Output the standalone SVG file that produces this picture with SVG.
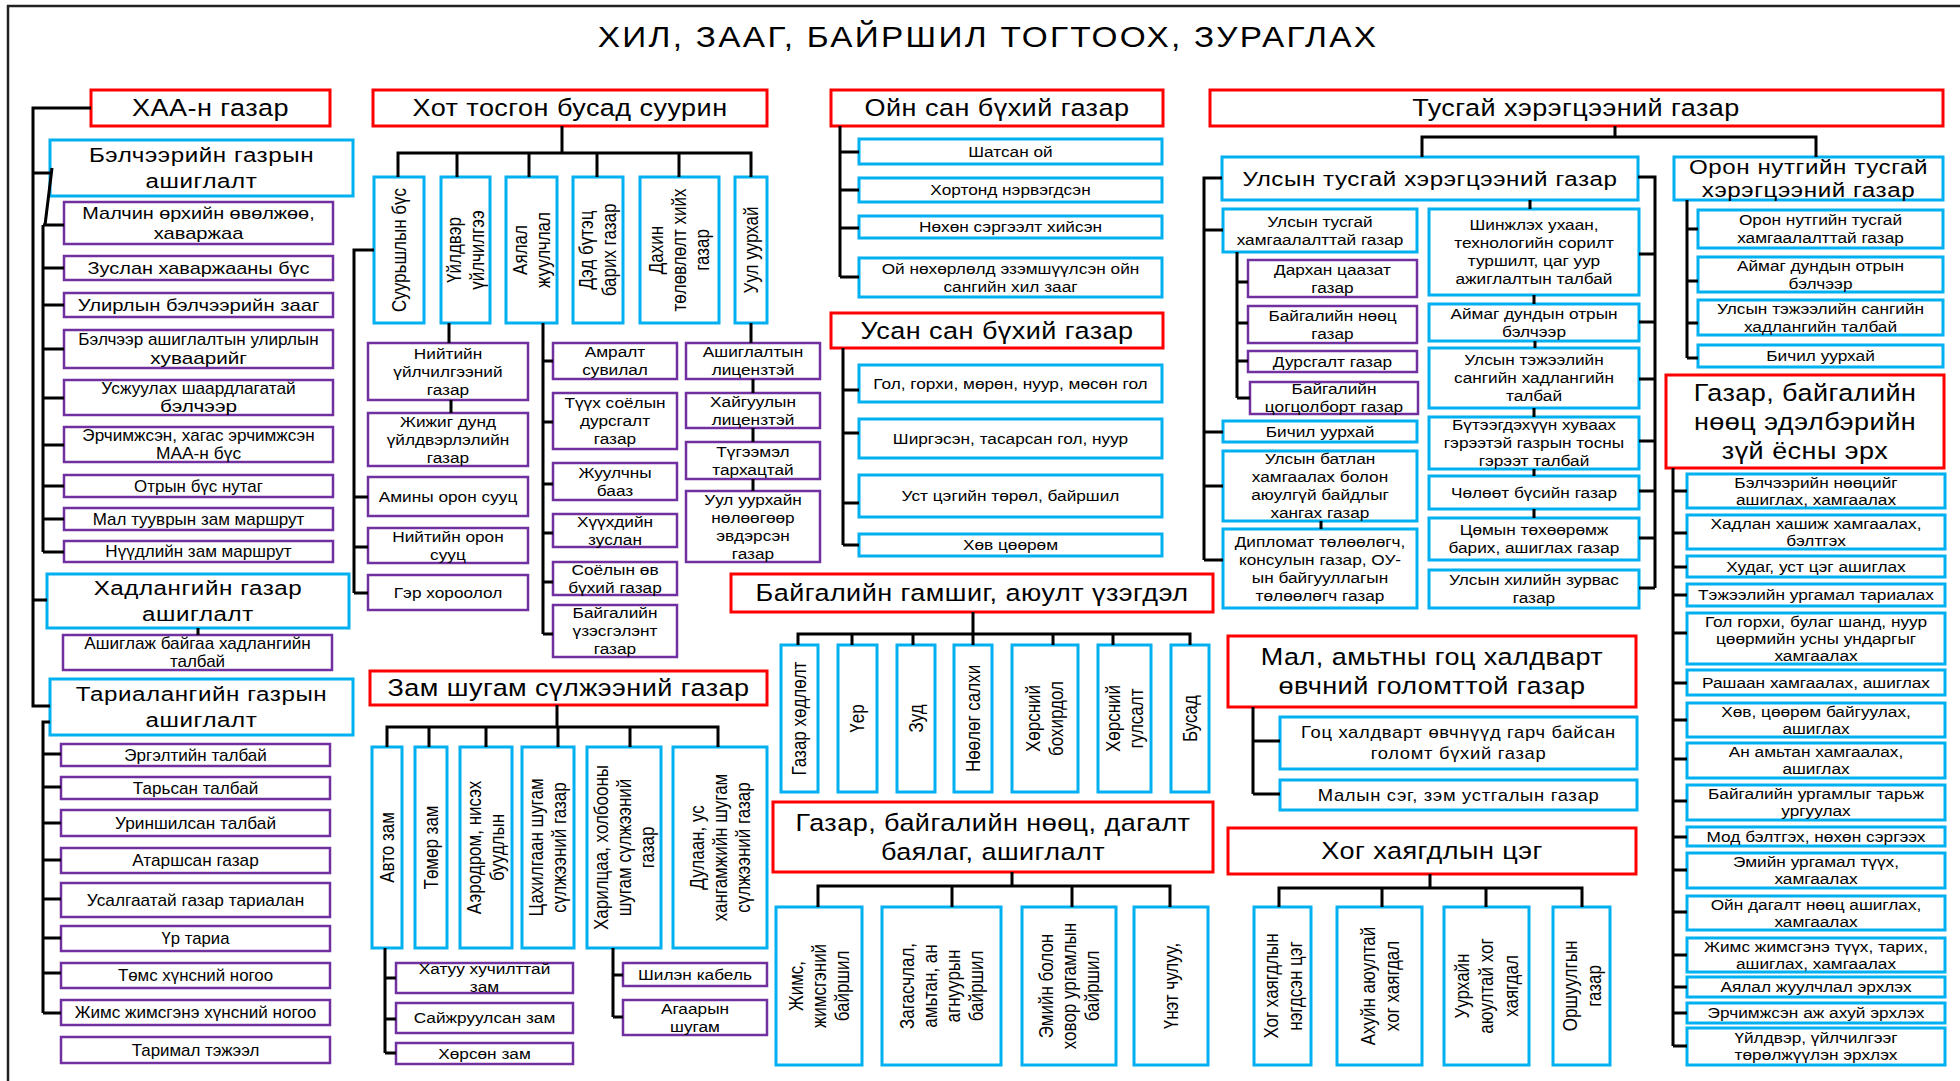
<svg xmlns="http://www.w3.org/2000/svg" width="1960" height="1081" viewBox="0 0 1960 1081">
<style>
.r{fill:#fff;stroke:#FF0000;stroke-width:3}
.b{fill:#fff;stroke:#00B0F0;stroke-width:3}
.p{fill:#fff;stroke:#7030A0;stroke-width:2.5}
.ln{fill:none;stroke:#000;stroke-width:3}
.fr{fill:none;stroke:#222;stroke-width:2.5}
text{font-family:"Liberation Sans",Arial,sans-serif;text-anchor:middle;fill:#000}
.tt{font-size:29px;letter-spacing:2px}
.h{font-size:23.5px;letter-spacing:0.4px}
.m{font-size:21px;letter-spacing:0.5px}
.s{font-size:15px}
.s16{font-size:16px;letter-spacing:0.6px}
.k{font-size:16px}
.v{font-size:17px}
</style>
<rect width="1960" height="1081" fill="#fff"/>
<path class="fr" d="M8,1081 V6 H1960"/>
<text class="tt" transform="translate(988,47) scale(1.15,1)">ХИЛ, ЗААГ, БАЙРШИЛ ТОГТООХ, ЗУРАГЛАХ</text>

<!-- ХАА -->
<g id="haa"><rect class="r" x="91" y="90" width="239" height="36"/><text class="h" transform="translate(210.5,116) scale(1.15,1)">ХАА-н газар</text></g>
<g id="belcheer"><rect class="b" x="50" y="140" width="303" height="56"/><text class="m" transform="translate(201.5,162.4) scale(1.15,1)"><tspan x="0">Бэлчээрийн газрын</tspan><tspan x="0" dy="26">ашиглалт</tspan></text></g>
<g id="b1"><rect class="p" x="64" y="202" width="269" height="42"/><text class="k" transform="translate(198.5,219.1) scale(1.15,1)"><tspan x="0" textLength="202" lengthAdjust="spacingAndGlyphs">Малчин өрхийн өвөлжөө,</tspan><tspan x="0" dy="20" textLength="78" lengthAdjust="spacingAndGlyphs">хаваржаа</tspan></text></g>
<g id="b2"><rect class="p" x="64" y="256" width="269" height="24"/><text class="k" transform="translate(198.5,273.6) scale(1.15,1)" textLength="193" lengthAdjust="spacingAndGlyphs">Зуслан хаваржааны бүс</text></g>
<g id="b3"><rect class="p" x="64" y="293" width="269" height="24"/><text class="k" transform="translate(198.5,310.6) scale(1.15,1)" textLength="210" lengthAdjust="spacingAndGlyphs">Улирлын бэлчээрийн зааг</text></g>
<g id="b4"><rect class="p" x="64" y="330" width="269" height="38"/><text class="k" transform="translate(198.5,345.1) scale(1.15,1)"><tspan x="0" textLength="209" lengthAdjust="spacingAndGlyphs">Бэлчээр ашиглалтын улирлын</tspan><tspan x="0" dy="19" textLength="84" lengthAdjust="spacingAndGlyphs">хуваарийг</tspan></text></g>
<g id="b5"><rect class="p" x="64" y="380" width="269" height="35"/><text class="k" transform="translate(198.5,393.6) scale(1.15,1)"><tspan x="0" textLength="169" lengthAdjust="spacingAndGlyphs">Усжуулах шаардлагатай</tspan><tspan x="0" dy="18" textLength="67" lengthAdjust="spacingAndGlyphs">бэлчээр</tspan></text></g>
<g id="b6"><rect class="p" x="64" y="427" width="269" height="35"/><text class="k" transform="translate(198.5,440.6) scale(1.15,1)"><tspan x="0" textLength="202" lengthAdjust="spacingAndGlyphs">Эрчимжсэн, хагас эрчимжсэн</tspan><tspan x="0" dy="18" textLength="74" lengthAdjust="spacingAndGlyphs">МАА-н бүс</tspan></text></g>
<g id="b7"><rect class="p" x="64" y="475" width="269" height="22"/><text class="k" transform="translate(198.5,491.6) scale(1.15,1)" textLength="112" lengthAdjust="spacingAndGlyphs">Отрын бүс нутаг</text></g>
<g id="b8"><rect class="p" x="64" y="508" width="269" height="22"/><text class="k" transform="translate(198.5,524.6) scale(1.15,1)" textLength="184" lengthAdjust="spacingAndGlyphs">Мал тууврын зам маршрут</text></g>
<g id="b9"><rect class="p" x="64" y="541" width="269" height="21"/><text class="k" transform="translate(198.5,557.1) scale(1.15,1)" textLength="162" lengthAdjust="spacingAndGlyphs">Нүүдлийн зам маршрут</text></g>
<g id="hadlan"><rect class="b" x="47" y="574" width="302" height="54"/><text class="m" transform="translate(198,595.4) scale(1.15,1)"><tspan x="0">Хадлангийн газар</tspan><tspan x="0" dy="26">ашиглалт</tspan></text></g>
<g id="h1"><rect class="p" x="63" y="635" width="269" height="35"/><text class="k" transform="translate(197.5,648.6) scale(1.15,1)"><tspan x="0" textLength="197" lengthAdjust="spacingAndGlyphs">Ашиглаж байгаа хадлангийн</tspan><tspan x="0" dy="18" textLength="48" lengthAdjust="spacingAndGlyphs">талбай</tspan></text></g>
<g id="taria"><rect class="b" x="50" y="679" width="303" height="56"/><text class="m" transform="translate(201.5,701.4) scale(1.15,1)"><tspan x="0">Тариалангийн газрын</tspan><tspan x="0" dy="26">ашиглалт</tspan></text></g>
<g id="t1"><rect class="p" x="61" y="744" width="269" height="22"/><text class="k" transform="translate(195.5,760.6) scale(1.15,1)" textLength="124" lengthAdjust="spacingAndGlyphs">Эргэлтийн талбай</text></g>
<g id="t2"><rect class="p" x="61" y="777" width="269" height="22"/><text class="k" transform="translate(195.5,793.6) scale(1.15,1)" textLength="109" lengthAdjust="spacingAndGlyphs">Тарьсан талбай</text></g>
<g id="t3"><rect class="p" x="61" y="810" width="269" height="26"/><text class="k" transform="translate(195.5,828.6) scale(1.15,1)" textLength="140" lengthAdjust="spacingAndGlyphs">Уриншилсан талбай</text></g>
<g id="t4"><rect class="p" x="61" y="848" width="269" height="25"/><text class="k" transform="translate(195.5,866.1) scale(1.15,1)" textLength="110" lengthAdjust="spacingAndGlyphs">Атаршсан газар</text></g>
<g id="t5"><rect class="p" x="61" y="883" width="269" height="34"/><text class="k" transform="translate(195.5,905.6) scale(1.15,1)" textLength="189" lengthAdjust="spacingAndGlyphs">Усалгаатай газар тариалан</text></g>
<g id="t6"><rect class="p" x="61" y="926" width="269" height="25"/><text class="k" transform="translate(195.5,944.1) scale(1.15,1)" textLength="59" lengthAdjust="spacingAndGlyphs">Үр тариа</text></g>
<g id="t7"><rect class="p" x="61" y="963" width="269" height="25"/><text class="k" transform="translate(195.5,981.1) scale(1.15,1)" textLength="135" lengthAdjust="spacingAndGlyphs">Төмс хүнсний ногоо</text></g>
<g id="t8"><rect class="p" x="61" y="1000" width="269" height="25"/><text class="k" transform="translate(195.5,1018.1) scale(1.15,1)" textLength="210" lengthAdjust="spacingAndGlyphs">Жимс жимсгэнэ хүнсний ногоо</text></g>
<g id="t9"><rect class="p" x="61" y="1037" width="269" height="26"/><text class="k" transform="translate(195.5,1055.6) scale(1.15,1)" textLength="111" lengthAdjust="spacingAndGlyphs">Таримал тэжээл</text></g>

<!-- Хот -->
<g id="hot"><rect class="r" x="373" y="90" width="394" height="36"/><text class="h" transform="translate(570,116) scale(1.15,1)">Хот тосгон бусад суурин</text></g>
<g id="hv1"><rect class="b" x="374" y="177" width="50" height="146"/><text class="v" transform="translate(399,250) scale(1.15,1) rotate(-90)"><tspan x="0" y="6">Суурьшлын бүс</tspan></text></g>
<g id="hv2"><rect class="b" x="441" y="177" width="49" height="146"/><text class="v" transform="translate(465.5,250) scale(1.15,1) rotate(-90)"><tspan x="0" y="-4">Үйлдвэр</tspan><tspan x="0" dy="20">үйлчилгээ</tspan></text></g>
<g id="hv3"><rect class="b" x="506" y="177" width="51" height="146"/><text class="v" transform="translate(531.5,250) scale(1.15,1) rotate(-90)"><tspan x="0" y="-4">Аялал</tspan><tspan x="0" dy="20">жуулчлал</tspan></text></g>
<g id="hv4"><rect class="b" x="573" y="177" width="50" height="146"/><text class="v" transform="translate(598,250) scale(1.15,1) rotate(-90)"><tspan x="0" y="-4">Дэд бүтэц</tspan><tspan x="0" dy="20">барих газар</tspan></text></g>
<g id="hv5"><rect class="b" x="640" y="177" width="79" height="146"/><text class="v" transform="translate(679.5,250) scale(1.15,1) rotate(-90)"><tspan x="0" y="-14">Дахин</tspan><tspan x="0" dy="20">төлөвлөлт хийх</tspan><tspan x="0" dy="20">газар</tspan></text></g>
<g id="hv6"><rect class="b" x="735" y="177" width="32" height="146"/><text class="v" transform="translate(751,250) scale(1.15,1) rotate(-90)"><tspan x="0" y="6">Уул уурхай</tspan></text></g>
<g id="hp1"><rect class="p" x="368" y="343" width="160" height="57"/><text class="s" transform="translate(448,358.75) scale(1.15,1)"><tspan x="0">Нийтийн</tspan><tspan x="0" dy="18">үйлчилгээний</tspan><tspan x="0" dy="18">газар</tspan></text></g>
<g id="hp2"><rect class="p" x="368" y="413" width="160" height="53"/><text class="s" transform="translate(448,426.75) scale(1.15,1)"><tspan x="0">Жижиг дунд</tspan><tspan x="0" dy="18">үйлдвэрлэлийн</tspan><tspan x="0" dy="18">газар</tspan></text></g>
<g id="hp3"><rect class="p" x="368" y="477" width="160" height="39"/><text class="s" transform="translate(448,501.75) scale(1.15,1)">Амины орон сууц</text></g>
<g id="hp4"><rect class="p" x="368" y="528" width="160" height="35"/><text class="s" transform="translate(448,541.75) scale(1.15,1)"><tspan x="0">Нийтийн орон</tspan><tspan x="0" dy="18">сууц</tspan></text></g>
<g id="hp5"><rect class="p" x="368" y="575" width="160" height="35"/><text class="s" transform="translate(448,597.75) scale(1.15,1)">Гэр хороолол</text></g>
<g id="ha1"><rect class="p" x="553" y="343" width="124" height="36"/><text class="s" transform="translate(615,357.25) scale(1.15,1)"><tspan x="0">Амралт</tspan><tspan x="0" dy="18">сувилал</tspan></text></g>
<g id="ha2"><rect class="p" x="553" y="393" width="124" height="56"/><text class="s" transform="translate(615,408.25) scale(1.15,1)"><tspan x="0">Түүх соёлын</tspan><tspan x="0" dy="18">дурсгалт</tspan><tspan x="0" dy="18">газар</tspan></text></g>
<g id="ha3"><rect class="p" x="553" y="463" width="124" height="37"/><text class="s" transform="translate(615,477.75) scale(1.15,1)"><tspan x="0">Жуулчны</tspan><tspan x="0" dy="18">бааз</tspan></text></g>
<g id="ha4"><rect class="p" x="553" y="514" width="124" height="33"/><text class="s" transform="translate(615,526.75) scale(1.15,1)"><tspan x="0">Хүүхдийн</tspan><tspan x="0" dy="18">зуслан</tspan></text></g>
<g id="ha5"><rect class="p" x="553" y="562" width="124" height="33"/><text class="s" transform="translate(615,574.75) scale(1.15,1)"><tspan x="0">Соёлын өв</tspan><tspan x="0" dy="18">бүхий газар</tspan></text></g>
<g id="ha6"><rect class="p" x="553" y="605" width="124" height="52"/><text class="s" transform="translate(615,618.25) scale(1.15,1)"><tspan x="0">Байгалийн</tspan><tspan x="0" dy="18">үзэсгэлэнт</tspan><tspan x="0" dy="18">газар</tspan></text></g>
<g id="hu1"><rect class="p" x="686" y="343" width="134" height="36"/><text class="s" transform="translate(753,357.25) scale(1.15,1)"><tspan x="0">Ашиглалтын</tspan><tspan x="0" dy="18">лицензтэй</tspan></text></g>
<g id="hu2"><rect class="p" x="686" y="393" width="134" height="35"/><text class="s" transform="translate(753,406.75) scale(1.15,1)"><tspan x="0">Хайгуулын</tspan><tspan x="0" dy="18">лицензтэй</tspan></text></g>
<g id="hu3"><rect class="p" x="686" y="442" width="134" height="37"/><text class="s" transform="translate(753,456.75) scale(1.15,1)"><tspan x="0">Түгээмэл</tspan><tspan x="0" dy="18">тархацтай</tspan></text></g>
<g id="hu4"><rect class="p" x="686" y="491" width="134" height="71"/><text class="s" transform="translate(753,504.75) scale(1.15,1)"><tspan x="0">Уул уурхайн</tspan><tspan x="0" dy="18">нөлөөгөөр</tspan><tspan x="0" dy="18">эвдэрсэн</tspan><tspan x="0" dy="18">газар</tspan></text></g>

<!-- Ойн / Усан -->
<g id="oin"><rect class="r" x="831" y="90" width="332" height="36"/><text class="h" transform="translate(997,116) scale(1.15,1)">Ойн сан бүхий газар</text></g>
<g id="o1"><rect class="b" x="859" y="139" width="303" height="25"/><text class="s" transform="translate(1010.5,156.75) scale(1.15,1)">Шатсан ой</text></g>
<g id="o2"><rect class="b" x="859" y="178" width="303" height="24"/><text class="s" transform="translate(1010.5,195.25) scale(1.15,1)">Хортонд нэрвэгдсэн</text></g>
<g id="o3"><rect class="b" x="859" y="216" width="303" height="22"/><text class="s" transform="translate(1010.5,232.25) scale(1.15,1)">Нөхөн сэргээлт хийсэн</text></g>
<g id="o4"><rect class="b" x="859" y="258" width="303" height="39"/><text class="s" transform="translate(1010.5,273.75) scale(1.15,1)"><tspan x="0">Ой нөхөрлөлд эзэмшүүлсэн ойн</tspan><tspan x="0" dy="18">сангийн хил зааг</tspan></text></g>
<g id="usan"><rect class="r" x="831" y="313" width="332" height="35"/><text class="h" transform="translate(997,339) scale(1.15,1)">Усан сан бүхий газар</text></g>
<g id="u1"><rect class="b" x="859" y="365" width="303" height="37"/><text class="s" transform="translate(1010.5,388.75) scale(1.15,1)">Гол, горхи, мөрөн, нуур, мөсөн гол</text></g>
<g id="u2"><rect class="b" x="859" y="419" width="303" height="39"/><text class="s" transform="translate(1010.5,443.75) scale(1.15,1)">Ширгэсэн, тасарсан гол, нуур</text></g>
<g id="u3"><rect class="b" x="859" y="475" width="303" height="42"/><text class="s" transform="translate(1010.5,501.25) scale(1.15,1)">Уст цэгийн төрөл, байршил</text></g>
<g id="u4"><rect class="b" x="859" y="534" width="303" height="22"/><text class="s" transform="translate(1010.5,550.25) scale(1.15,1)">Хөв цөөрөм</text></g>

<!-- Гамшиг -->
<g id="gamshig"><rect class="r" x="731" y="574" width="482" height="38"/><text class="h" transform="translate(972,601) scale(1.15,1)">Байгалийн гамшиг, аюулт үзэгдэл</text></g>
<g id="g1"><rect class="b" x="781" y="645" width="37" height="147"/><text class="v" transform="translate(799.5,718.5) scale(1.15,1) rotate(-90)"><tspan x="0" y="6">Газар хөдлөлт</tspan></text></g>
<g id="g2"><rect class="b" x="838" y="645" width="39" height="147"/><text class="v" transform="translate(857.5,718.5) scale(1.15,1) rotate(-90)"><tspan x="0" y="6">Үер</tspan></text></g>
<g id="g3"><rect class="b" x="897" y="645" width="38" height="147"/><text class="v" transform="translate(916,718.5) scale(1.15,1) rotate(-90)"><tspan x="0" y="6">Зуд</tspan></text></g>
<g id="g4"><rect class="b" x="954" y="645" width="38" height="147"/><text class="v" transform="translate(973,718.5) scale(1.15,1) rotate(-90)"><tspan x="0" y="6">Нөөлөг салхи</tspan></text></g>
<g id="g5"><rect class="b" x="1012" y="645" width="66" height="147"/><text class="v" transform="translate(1045,718.5) scale(1.15,1) rotate(-90)"><tspan x="0" y="-4">Хөрсний</tspan><tspan x="0" dy="20">бохирдол</tspan></text></g>
<g id="g6"><rect class="b" x="1098" y="645" width="53" height="147"/><text class="v" transform="translate(1124.5,718.5) scale(1.15,1) rotate(-90)"><tspan x="0" y="-4">Хөрсний</tspan><tspan x="0" dy="20">гулсалт</tspan></text></g>
<g id="g7"><rect class="b" x="1171" y="645" width="38" height="147"/><text class="v" transform="translate(1190,718.5) scale(1.15,1) rotate(-90)"><tspan x="0" y="6">Бусад</tspan></text></g>

<!-- Зам -->
<g id="zam"><rect class="r" x="370" y="671" width="397" height="34"/><text class="h" transform="translate(568.5,696) scale(1.15,1)">Зам шугам сүлжээний газар</text></g>
<g id="z1"><rect class="b" x="372" y="747" width="30" height="201"/><text class="v" transform="translate(387,847.5) scale(1.15,1) rotate(-90)"><tspan x="0" y="6">Авто зам</tspan></text></g>
<g id="z2"><rect class="b" x="415" y="747" width="32" height="201"/><text class="v" transform="translate(431,847.5) scale(1.15,1) rotate(-90)"><tspan x="0" y="6">Төмөр зам</tspan></text></g>
<g id="z3"><rect class="b" x="460" y="747" width="52" height="201"/><text class="v" transform="translate(486,847.5) scale(1.15,1) rotate(-90)"><tspan x="0" y="-4">Аэродром, нисэх</tspan><tspan x="0" dy="20">буудлын</tspan></text></g>
<g id="z4"><rect class="b" x="522" y="747" width="52" height="201"/><text class="v" transform="translate(548,847.5) scale(1.15,1) rotate(-90)"><tspan x="0" y="-4">Цахилгаан шугам</tspan><tspan x="0" dy="20">сүлжээний газар</tspan></text></g>
<g id="z5"><rect class="b" x="587" y="747" width="74" height="201"/><text class="v" transform="translate(624,847.5) scale(1.15,1) rotate(-90)"><tspan x="0" y="-14">Харилцаа, холбооны</tspan><tspan x="0" dy="20">шугам сүлжээний</tspan><tspan x="0" dy="20">газар</tspan></text></g>
<g id="z6"><rect class="b" x="673" y="747" width="94" height="201"/><text class="v" transform="translate(720,847.5) scale(1.15,1) rotate(-90)"><tspan x="0" y="-14">Дулаан, ус</tspan><tspan x="0" dy="20">хангамжийн шугам</tspan><tspan x="0" dy="20">сүлжээний газар</tspan></text></g>
<g id="za1"><rect class="p" x="396" y="963" width="177" height="30"/><text class="s" transform="translate(484.5,974.25) scale(1.15,1)"><tspan x="0">Хатуу хучилттай</tspan><tspan x="0" dy="18">зам</tspan></text></g>
<g id="za2"><rect class="p" x="396" y="1003" width="177" height="30"/><text class="s" transform="translate(484.5,1023.25) scale(1.15,1)">Сайжруулсан зам</text></g>
<g id="za3"><rect class="p" x="396" y="1043" width="177" height="21"/><text class="s" transform="translate(484.5,1058.75) scale(1.15,1)">Хөрсөн зам</text></g>
<g id="zh1"><rect class="p" x="623" y="963" width="144" height="23"/><text class="s" transform="translate(695,979.75) scale(1.15,1)">Шилэн кабель</text></g>
<g id="zh2"><rect class="p" x="623" y="1000" width="144" height="35"/><text class="s" transform="translate(695,1013.75) scale(1.15,1)"><tspan x="0">Агаарын</tspan><tspan x="0" dy="18">шугам</tspan></text></g>

<!-- Газар, байгалийн нөөц, дагалт -->
<g id="nooc"><rect class="r" x="773" y="802" width="440" height="70"/><text class="h" transform="translate(993,830.7) scale(1.15,1)"><tspan x="0">Газар, байгалийн нөөц, дагалт</tspan><tspan x="0" dy="29">баялаг, ашиглалт</tspan></text></g>
<g id="nc1"><rect class="b" x="776" y="907" width="86" height="158"/><text class="v" transform="translate(819,986) scale(1.15,1) rotate(-90)"><tspan x="0" y="-14">Жимс,</tspan><tspan x="0" dy="20">жимсгэний</tspan><tspan x="0" dy="20">байршил</tspan></text></g>
<g id="nc2"><rect class="b" x="882" y="907" width="119" height="158"/><text class="v" transform="translate(941.5,986) scale(1.15,1) rotate(-90)"><tspan x="0" y="-24">Загасчлал,</tspan><tspan x="0" dy="20">амьтан, ан</tspan><tspan x="0" dy="20">агнуурын</tspan><tspan x="0" dy="20">байршил</tspan></text></g>
<g id="nc3"><rect class="b" x="1022" y="907" width="94" height="158"/><text class="v" transform="translate(1069,986) scale(1.15,1) rotate(-90)"><tspan x="0" y="-14">Эмийн болон</tspan><tspan x="0" dy="20">ховор ургамлын</tspan><tspan x="0" dy="20">байршил</tspan></text></g>
<g id="nc4"><rect class="b" x="1134" y="907" width="74" height="158"/><text class="v" transform="translate(1171,986) scale(1.15,1) rotate(-90)"><tspan x="0" y="6">Үнэт чулуу,</tspan></text></g>

<!-- Тусгай -->
<g id="tusgai"><rect class="r" x="1210" y="90" width="733" height="36"/><text class="h" transform="translate(1576,116) scale(1.15,1)">Тусгай хэрэгцээний газар</text></g>
<g id="uls"><rect class="b" x="1222" y="157" width="416" height="43"/><text class="m" transform="translate(1430,186) scale(1.15,1)">Улсын тусгай хэрэгцээний газар</text></g>
<g id="oron"><rect class="b" x="1674" y="157" width="269" height="43"/><text class="m" transform="translate(1808.5,174.4) scale(1.15,1)"><tspan x="0">Орон нутгийн тусгай</tspan><tspan x="0" dy="23">хэрэгцээний газар</tspan></text></g>
<g id="ul1"><rect class="b" x="1223" y="209" width="194" height="43"/><text class="s" transform="translate(1320,226.75) scale(1.15,1)"><tspan x="0">Улсын тусгай</tspan><tspan x="0" dy="18">хамгаалалттай газар</tspan></text></g>
<g id="up1"><rect class="p" x="1248" y="260" width="169" height="37"/><text class="s" transform="translate(1332.5,274.75) scale(1.15,1)"><tspan x="0">Дархан цаазат</tspan><tspan x="0" dy="18">газар</tspan></text></g>
<g id="up2"><rect class="p" x="1248" y="306" width="169" height="37"/><text class="s" transform="translate(1332.5,320.75) scale(1.15,1)"><tspan x="0">Байгалийн нөөц</tspan><tspan x="0" dy="18">газар</tspan></text></g>
<g id="up3"><rect class="p" x="1248" y="351" width="169" height="21"/><text class="s" transform="translate(1332.5,366.75) scale(1.15,1)">Дурсгалт газар</text></g>
<g id="up4"><rect class="p" x="1250" y="382" width="168" height="32"/><text class="s" transform="translate(1334,394.25) scale(1.15,1)"><tspan x="0">Байгалийн</tspan><tspan x="0" dy="18">цогцолборт газар</tspan></text></g>
<g id="ul2"><rect class="b" x="1223" y="421" width="194" height="21"/><text class="s" transform="translate(1320,436.75) scale(1.15,1)">Бичил уурхай</text></g>
<g id="ul3"><rect class="b" x="1223" y="451" width="194" height="70"/><text class="s" transform="translate(1320,464.25) scale(1.15,1)"><tspan x="0">Улсын батлан</tspan><tspan x="0" dy="18">хамгаалах болон</tspan><tspan x="0" dy="18">аюулгүй байдлыг</tspan><tspan x="0" dy="18">хангах газар</tspan></text></g>
<g id="ul4"><rect class="b" x="1223" y="529" width="194" height="79"/><text class="s" transform="translate(1320,546.75) scale(1.15,1)"><tspan x="0">Дипломат төлөөлөгч,</tspan><tspan x="0" dy="18">консулын газар, ОУ-</tspan><tspan x="0" dy="18">ын  байгууллагын</tspan><tspan x="0" dy="18">төлөөлөгч газар</tspan></text></g>
<g id="ur1"><rect class="b" x="1429" y="209" width="210" height="86"/><text class="s" transform="translate(1534,230.25) scale(1.15,1)"><tspan x="0">Шинжлэх ухаан,</tspan><tspan x="0" dy="18">технологийн сорилт</tspan><tspan x="0" dy="18">туршилт, цаг уур</tspan><tspan x="0" dy="18">ажиглалтын талбай</tspan></text></g>
<g id="ur2"><rect class="b" x="1429" y="304" width="210" height="37"/><text class="s" transform="translate(1534,318.75) scale(1.15,1)"><tspan x="0">Аймаг дундын отрын</tspan><tspan x="0" dy="18">бэлчээр</tspan></text></g>
<g id="ur3"><rect class="b" x="1429" y="348" width="210" height="60"/><text class="s" transform="translate(1534,365.25) scale(1.15,1)"><tspan x="0">Улсын тэжээлийн</tspan><tspan x="0" dy="18">сангийн хадлангийн</tspan><tspan x="0" dy="18">талбай</tspan></text></g>
<g id="ur4"><rect class="b" x="1429" y="417" width="210" height="52"/><text class="s" transform="translate(1534,430.25) scale(1.15,1)"><tspan x="0">Бүтээгдэхүүн хуваах</tspan><tspan x="0" dy="18">гэрээтэй газрын тосны</tspan><tspan x="0" dy="18">гэрээт талбай</tspan></text></g>
<g id="ur5"><rect class="b" x="1429" y="476" width="210" height="33"/><text class="s" transform="translate(1534,497.75) scale(1.15,1)">Чөлөөт бүсийн газар</text></g>
<g id="ur6"><rect class="b" x="1429" y="518" width="210" height="42"/><text class="s" transform="translate(1534,535.25) scale(1.15,1)"><tspan x="0">Цөмын төхөөрөмж</tspan><tspan x="0" dy="18">барих, ашиглах газар</tspan></text></g>
<g id="ur7"><rect class="b" x="1429" y="570" width="210" height="38"/><text class="s" transform="translate(1534,585.25) scale(1.15,1)"><tspan x="0">Улсын хилийн зурвас</tspan><tspan x="0" dy="18">газар</tspan></text></g>
<g id="on1"><rect class="b" x="1698" y="210" width="245" height="38"/><text class="s" transform="translate(1820.5,225.25) scale(1.15,1)"><tspan x="0">Орон нутгийн тусгай</tspan><tspan x="0" dy="18">хамгаалалттай газар</tspan></text></g>
<g id="on2"><rect class="b" x="1698" y="257" width="245" height="35"/><text class="s" transform="translate(1820.5,270.75) scale(1.15,1)"><tspan x="0">Аймаг дундын отрын</tspan><tspan x="0" dy="18">бэлчээр</tspan></text></g>
<g id="on3"><rect class="b" x="1698" y="300" width="245" height="35"/><text class="s" transform="translate(1820.5,313.75) scale(1.15,1)"><tspan x="0">Улсын тэжээлийн сангийн</tspan><tspan x="0" dy="18">хадлангийн талбай</tspan></text></g>
<g id="on4"><rect class="b" x="1698" y="345" width="245" height="22"/><text class="s" transform="translate(1820.5,361.25) scale(1.15,1)">Бичил уурхай</text></g>

<!-- Эрх -->
<g id="erh"><rect class="r" x="1666" y="375" width="278" height="93"/><text class="h" transform="translate(1805,400.7) scale(1.15,1)"><tspan x="0">Газар, байгалийн</tspan><tspan x="0" dy="29">нөөц эдэлбэрийн</tspan><tspan x="0" dy="29">зүй ёсны эрх</tspan></text></g>
<g id="e1"><rect class="b" x="1687" y="474" width="258" height="34"/><text class="s" transform="translate(1816,487.75) scale(1.15,1)"><tspan x="0">Бэлчээрийн нөөцийг</tspan><tspan x="0" dy="17">ашиглах, хамгаалах</tspan></text></g>
<g id="e2"><rect class="b" x="1687" y="515" width="258" height="34"/><text class="s" transform="translate(1816,528.75) scale(1.15,1)"><tspan x="0">Хадлан хашиж хамгаалах,</tspan><tspan x="0" dy="17">бэлтгэх</tspan></text></g>
<g id="e3"><rect class="b" x="1687" y="556" width="258" height="21"/><text class="s" transform="translate(1816,571.75) scale(1.15,1)">Худаг, уст цэг ашиглах</text></g>
<g id="e4"><rect class="b" x="1687" y="584" width="258" height="22"/><text class="s" transform="translate(1816,600.25) scale(1.15,1)">Тэжээлийн ургамал тариалах</text></g>
<g id="e5"><rect class="b" x="1687" y="613" width="258" height="51"/><text class="s" transform="translate(1816,626.75) scale(1.15,1)"><tspan x="0">Гол горхи, булаг шанд, нуур</tspan><tspan x="0" dy="17">цөөрмийн усны ундаргыг</tspan><tspan x="0" dy="17">хамгаалах</tspan></text></g>
<g id="e6"><rect class="b" x="1687" y="670" width="258" height="25"/><text class="s" transform="translate(1816,687.75) scale(1.15,1)">Рашаан хамгаалах, ашиглах</text></g>
<g id="e7"><rect class="b" x="1687" y="703" width="258" height="34"/><text class="s" transform="translate(1816,716.75) scale(1.15,1)"><tspan x="0">Хөв, цөөрөм байгуулах,</tspan><tspan x="0" dy="17">ашиглах</tspan></text></g>
<g id="e8"><rect class="b" x="1687" y="743" width="258" height="35"/><text class="s" transform="translate(1816,757.25) scale(1.15,1)"><tspan x="0">Ан амьтан хамгаалах,</tspan><tspan x="0" dy="17">ашиглах</tspan></text></g>
<g id="e9"><rect class="b" x="1687" y="785" width="258" height="35"/><text class="s" transform="translate(1816,799.25) scale(1.15,1)"><tspan x="0">Байгалийн ургамлыг тарьж</tspan><tspan x="0" dy="17">ургуулах</tspan></text></g>
<g id="e10"><rect class="b" x="1687" y="827" width="258" height="19"/><text class="s" transform="translate(1816,841.75) scale(1.15,1)">Мод бэлтгэх, нөхөн  сэргээх</text></g>
<g id="e11"><rect class="b" x="1687" y="853" width="258" height="35"/><text class="s" transform="translate(1816,867.25) scale(1.15,1)"><tspan x="0">Эмийн ургамал түүх,</tspan><tspan x="0" dy="17">хамгаалах</tspan></text></g>
<g id="e12"><rect class="b" x="1687" y="896" width="258" height="34"/><text class="s" transform="translate(1816,909.75) scale(1.15,1)"><tspan x="0">Ойн дагалт нөөц ашиглах,</tspan><tspan x="0" dy="17">хамгаалах</tspan></text></g>
<g id="e13"><rect class="b" x="1687" y="938" width="258" height="34"/><text class="s" transform="translate(1816,951.75) scale(1.15,1)"><tspan x="0">Жимс жимсгэнэ түүх, тарих,</tspan><tspan x="0" dy="17">ашиглах, хамгаалах</tspan></text></g>
<g id="e14"><rect class="b" x="1687" y="977" width="258" height="20"/><text class="s" transform="translate(1816,992.25) scale(1.15,1)">Аялал жуулчлал эрхлэх</text></g>
<g id="e15"><rect class="b" x="1687" y="1003" width="258" height="20"/><text class="s" transform="translate(1816,1018.25) scale(1.15,1)">Эрчимжсэн аж ахуй эрхлэх</text></g>
<g id="e16"><rect class="b" x="1687" y="1028" width="258" height="37"/><text class="s" transform="translate(1816,1043.25) scale(1.15,1)"><tspan x="0">Үйлдвэр, үйлчилгээг</tspan><tspan x="0" dy="17">төрөлжүүлэн эрхлэх</tspan></text></g>

<!-- Мал -->
<g id="mal"><rect class="r" x="1228" y="636" width="408" height="71"/><text class="h" transform="translate(1432,665.2) scale(1.15,1)"><tspan x="0">Мал, амьтны гоц халдварт</tspan><tspan x="0" dy="29">өвчний голомттой газар</tspan></text></g>
<g id="m1"><rect class="b" x="1280" y="717" width="357" height="52"/><text class="s16" transform="translate(1458.5,738.1) scale(1.15,1)"><tspan x="0">Гоц халдварт өвчнүүд гарч байсан</tspan><tspan x="0" dy="21">голомт бүхий газар</tspan></text></g>
<g id="m2"><rect class="b" x="1280" y="780" width="357" height="30"/><text class="s16" transform="translate(1458.5,800.6) scale(1.15,1)">Малын сэг, зэм устгалын газар</text></g>

<!-- Хог -->
<g id="hog"><rect class="r" x="1228" y="828" width="408" height="46"/><text class="h" transform="translate(1432,859) scale(1.15,1)">Хог хаягдлын цэг</text></g>
<g id="hg1"><rect class="b" x="1254" y="907" width="57" height="158"/><text class="v" transform="translate(1282.5,986) scale(1.15,1) rotate(-90)"><tspan x="0" y="-4">Хог хаягдлын</tspan><tspan x="0" dy="21">нэгдсэн  цэг</tspan></text></g>
<g id="hg2"><rect class="b" x="1337" y="907" width="85" height="158"/><text class="v" transform="translate(1379.5,986) scale(1.15,1) rotate(-90)"><tspan x="0" y="-4">Ахуйн аюултай</tspan><tspan x="0" dy="21">хог хаягдал</tspan></text></g>
<g id="hg3"><rect class="b" x="1444" y="907" width="85" height="158"/><text class="v" transform="translate(1486.5,986) scale(1.15,1) rotate(-90)"><tspan x="0" y="-15">Уурхайн</tspan><tspan x="0" dy="21">аюултай хог</tspan><tspan x="0" dy="21">хаягдал</tspan></text></g>
<g id="hg4"><rect class="b" x="1553" y="907" width="57" height="158"/><text class="v" transform="translate(1581.5,986) scale(1.15,1) rotate(-90)"><tspan x="0" y="-4">Оршуулгын</tspan><tspan x="0" dy="21">газар</tspan></text></g>

<!-- connectors -->
<g id="connectors" class="ln">
<path d="M91,108 H33 V706 H50 M33,173 H50 M33,600 H47"/>
<path d="M52,168 L45,225 M43,225 V552 M43,225 H64 M43,268 H64 M43,305 H64 M43,349 H64 M43,398 H64 M43,445 H64 M43,486 H64 M43,519 H64 M43,552 H64"/>
<path d="M198,628 V635"/>
<path d="M50,722 H43 V1013 M43,754 H61 M43,787 H61 M43,823 H61 M43,860 H61 M43,899 H61 M43,938 H61 M43,973 H61 M43,1013 H61"/>
<path d="M562,126 V153 M398,177 V153 H751 V177 M457,153 V177 M529,153 V177 M597,153 V177 M679,153 V177"/>
<path d="M374,250 H354 V593 M354,497 H368 M354,547 H368 M354,593 H368"/>
<path d="M449,323 V343 M451,400 V413"/>
<path d="M543,323 V634 M543,361 H553 M543,422 H553 M543,484 H553 M543,533 H553 M543,582 H553 M543,634 H553"/>
<path d="M751,323 V343 M753,379 V393 M753,428 V442 M753,479 V491"/>
<path d="M840,126 V277 M840,152 H859 M840,190 H859 M840,228 H859 M840,277 H859"/>
<path d="M843,348 V545 M843,390 H859 M843,433 H859 M843,503 H859 M843,545 H859"/>
<path d="M973,612 V645 M798,645 V634 H1190 V645 M852,634 V645 M913,634 V645 M1053,634 V645 M1113,634 V645"/>
<path d="M557,705 V727 M387,747 V727 H718 V747 M429,727 V747 M486,727 V747 M558,727 V747 M630,727 V747"/>
<path d="M385,948 V1053 M385,978 H396 M385,1019 H396 M385,1053 H396"/>
<path d="M613,948 V1017 M613,975 H623 M613,1017 H623"/>
<path d="M1012,872 V886 M818,907 V886 H1170 V907 M952,886 V907 M1072,886 V907"/>
<path d="M1615,126 V137 M1422,157 V137 H1816 V157"/>
<path d="M1222,178 H1204 V560 M1204,230 H1223 M1204,432 H1223 M1204,486 H1223 M1204,560 H1223"/>
<path d="M1237,252 V398 M1237,282 H1248 M1237,323 H1248 M1237,361 H1248 M1237,398 H1250"/>
<path d="M1321,521 V529"/>
<path d="M1638,177 H1655 V588 M1655,254 H1639 M1655,322 H1639 M1655,379 H1639 M1655,441 H1639 M1655,491 H1639 M1655,538 H1639 M1655,588 H1639"/>
<path d="M1530,200 V209 M1534,295 V304 M1535,341 V348 M1534,408 V417 M1534,469 V476 M1534,509 V518"/>
<path d="M1687,200 V358 M1687,229 H1698 M1687,281 H1698 M1687,323 H1698 M1687,358 H1698"/>
<path d="M1673,468 V1046 M1673,491 H1687 M1673,533 H1687 M1673,567 H1687 M1673,595 H1687 M1673,633 H1687 M1673,683 H1687 M1673,720 H1687 M1673,759 H1687 M1673,801 H1687 M1673,837 H1687 M1673,870 H1687 M1673,912 H1687 M1673,955 H1687 M1673,987 H1687 M1673,1013 H1687 M1673,1046 H1687"/>
<path d="M1253,707 V794 M1253,741 H1280 M1253,794 H1280"/>
<path d="M1430,874 V888 M1279,907 V888 H1582 V907 M1382,888 V907 M1486,888 V907"/>
</g>
</svg>
